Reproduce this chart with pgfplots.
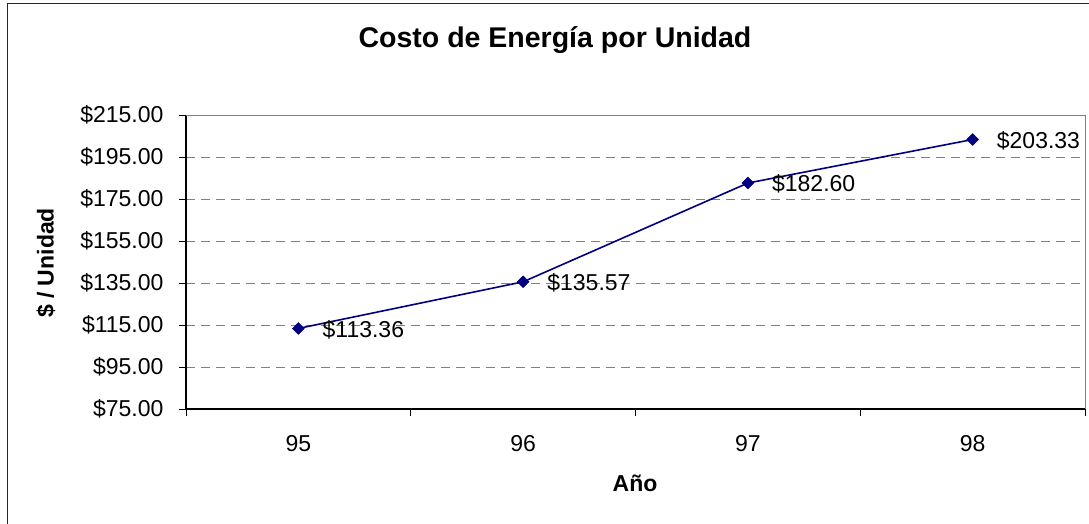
\documentclass[border=0pt]{standalone}
\usepackage{pgfplots}
\pgfplotsset{compat=1.18}
\usepackage{fontspec}
\setmainfont{Liberation Sans}
\definecolor{navyline}{RGB}{0,0,128}
\definecolor{gridgray}{RGB}{128,128,128}
\begin{document}
\begin{tikzpicture}[x=1pt,y=1pt]
\useasboundingbox (0,0) rectangle (1089,523);
\fill[white] (0,0) rectangle (1089,523);
\draw[line width=1pt, black!85] (7.5,-20) -- (7.5,519) -- (1120,519);
\node[font=\bfseries\fontsize{28.5}{33}\selectfont] at (555,483) {Costo de Energía por Unidad};
\node[font=\bfseries\fontsize{23}{27}\selectfont, rotate=90] at (46,260) {\$ / Unidad};
\node[font=\bfseries\fontsize{23}{27}\selectfont] at (635,40) {Año};
\begin{axis}[
  at={(186pt,114pt)}, anchor=south west,
  scale only axis, width=899pt, height=294pt,
  xmin=-0.5, xmax=3.5, ymin=75, ymax=215,
  axis x line*=bottom, axis y line*=left,
  axis line style={black, line width=1.2pt},
  xtick={0,1,2,3}, xticklabels={95,96,97,98},
  xtick style={draw=none},
  extra x ticks={-0.5,0.5,1.5,2.5,3.5},
  extra x tick labels={},
  extra x tick style={xtick style={draw=black, line width=1pt}, major tick length=7pt, tick align=outside, grid=none},
  ytick={75,95,...,215},
  yticklabels={\$75.00,\$95.00,\$115.00,\$135.00,\$155.00,\$175.00,\$195.00,\$215.00},
  ytick style={draw=black, line width=1pt},
  major tick length=7pt, tick align=outside,
  ymajorgrids, grid style={gridgray, line width=1pt, dash pattern=on 9pt off 6pt},
  ticklabel style={font=\fontsize{23}{27}\selectfont},
  xticklabel style={yshift=-16pt},
  yticklabel style={xshift=-12pt},
  /pgf/number format/assume math mode=true,
  clip=false,
]
\draw[gridgray, line width=1pt] (rel axis cs:0,1) -- (rel axis cs:1,1) -- (rel axis cs:1,0);
\addplot[navyline, line width=1.6pt, mark=square*, mark size=4.2pt,
  mark options={rotate=45, fill=navyline, draw=navyline, line width=0.5pt},
  nodes near coords, point meta=explicit symbolic,
  every node near coord/.append style={anchor=west, inner sep=0pt, xshift=24pt, yshift=-1pt, text=black, font=\fontsize{23}{27}\selectfont}]
  coordinates {(0,113.36) [\$113.36] (1,135.57) [\$135.57] (2,182.60) [\$182.60] (3,203.33) [\$203.33]};
\end{axis}
\end{tikzpicture}
\end{document}
